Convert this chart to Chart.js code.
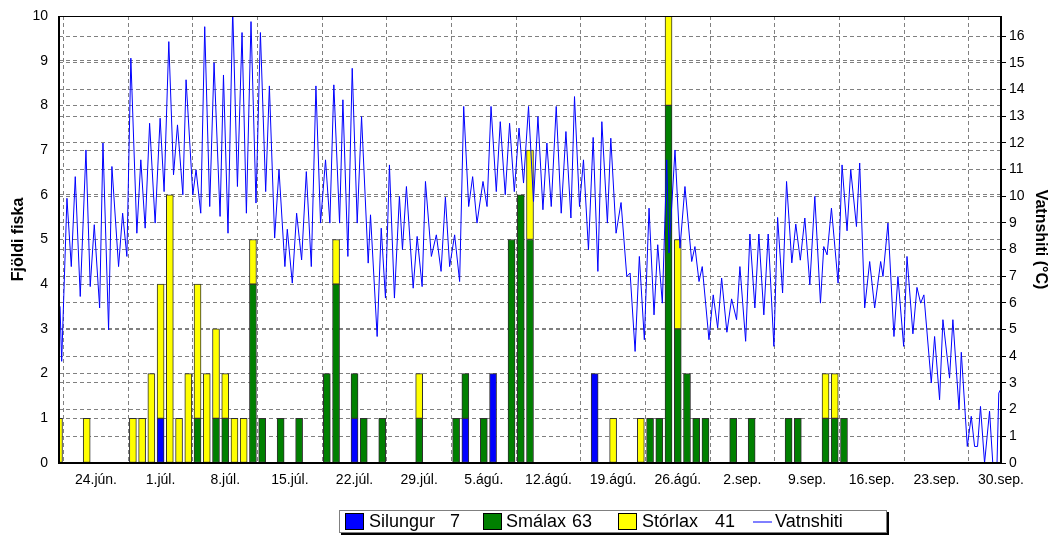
<!DOCTYPE html>
<html><head><meta charset="utf-8">
<script src="https://cdn.jsdelivr.net/npm/chart.js@4.4.0/dist/chart.umd.min.js"></script>
<style>html,body{margin:0;padding:0;background:#fff;}#wrap{width:1053px;height:536px;position:relative;}</style>
</head><body><div id="wrap"><canvas id="c" width="1053" height="536"></canvas></div>
<script>
// Days counted from 20. júní (day 0) to 30. sept. (day 102)
const tickDays = [4,11,18,25,32,39,46,53,60,67,74,81,88,95,102];
const tickLabels = ['24.jún.','1.júl.','8.júl.','15.júl.','22.júl.','29.júl.','5.ágú.','12.ágú.','19.ágú.','26.ágú.','2.sep.','9.sep.','16.sep.','23.sep.','30.sep.'];
const leftTicks = [0,1,2,3,4,5,6,7,8,9,10];
const rightTicks = [0,1,2,3,4,5,6,7,8,9,10,11,12,13,14,15,16];

// catch per day
const fishDay  = [0,3,8,9,10,11,12,13,14,15,16,17,18,19,20,21,22,24,26,29,30,32,33,35,39,43,44,46,47,49,50,51,58,60,63,64,65,66,67,68,69,70,73,75,79,80,83,84,85];
const silungur = [0,0,0,0,0,1,0,0,0,0,0,0,0,0,0,0,0,0,0,0,0,1,0,0,0,0,1,0,2,0,0,0,2,0,0,0,0,0,0,0,0,0,0,0,0,0,0,0,0];
const smalax   = [0,0,0,0,0,0,0,0,0,1,0,1,1,0,0,4,1,1,1,2,4,1,1,1,1,1,1,1,0,5,6,5,0,0,0,1,1,8,3,2,1,1,1,1,1,1,1,1,1];
const storlax  = [1,1,1,1,2,3,6,1,2,3,2,2,1,1,1,1,0,0,0,0,1,0,0,0,1,0,0,0,0,0,0,2,0,1,1,0,0,2,2,0,0,0,0,0,0,0,1,1,0];

// water temperature (°C), turning points of the curve
const tempDay = [0.11,0.29,0.86,1.33,1.76,2.30,2.92,3.38,3.82,4.40,4.76,5.37,5.73,6.45,6.89,7.35,7.78,8.43,8.86,9.33,9.81,10.41,10.95,11.38,11.89,12.40,12.83,13.41,13.76,14.49,14.84,15.35,15.78,16.32,16.79,17.44,17.81,18.30,18.81,19.32,19.82,20.29,20.79,21.33,21.81,22.38,22.78,23.35,23.82,24.46,24.72,25.26,25.73,26.27,26.78,27.32,27.82,28.32,28.86,29.33,29.76,30.38,30.74,31.28,31.75,32.29,32.76,33.48,33.73,34.45,34.89,35.35,35.78,36.32,36.86,37.19,37.62,38.35,38.78,39.32,39.68,40.32,40.86,41.37,41.84,42.30,42.84,43.38,43.82,44.36,44.79,45.26,45.91,46.35,46.78,47.35,47.78,48.32,48.79,49.30,49.81,50.30,50.84,51.38,51.86,52.40,52.83,53.30,53.84,54.38,54.89,55.43,55.82,56.36,56.79,57.33,57.84,58.35,58.78,59.38,59.75,60.32,60.86,61.48,61.84,62.38,62.84,63.38,63.89,64.43,64.83,65.33,65.81,66.05,66.70,67.24,67.78,68.51,68.86,69.30,69.65,70.38,70.84,71.32,71.75,72.32,72.83,73.37,73.73,74.35,74.81,75.35,75.78,76.32,76.79,77.41,77.81,78.35,78.78,79.35,79.78,80.27,80.76,81.30,81.84,82.45,82.81,83.17,83.64,84.36,84.79,85.33,85.73,86.35,86.70,87.24,87.78,88.32,88.97,89.22,89.76,90.41,90.84,91.46,91.82,92.46,92.90,93.30,93.65,94.45,94.81,95.35,95.71,96.43,96.79,97.46,97.70,98.35,98.78,99.14,99.46,99.78,100.22,100.76,101.11,101.57,101.76,101.95];
const tempC = [5.87,3.81,9.92,7.36,10.73,6.24,11.73,6.61,8.93,5.81,11.99,4.99,11.11,7.36,9.36,7.74,15.17,8.61,11.36,8.80,12.73,8.99,12.92,10.17,15.79,10.80,12.67,10.05,14.36,10.05,10.99,9.36,16.35,9.61,15.0,9.24,14.54,8.61,17.0,10.36,16.13,9.36,16.54,9.74,16.13,10.17,14.13,8.43,11.0,7.36,8.76,6.74,9.36,7.61,10.92,7.36,14.13,8.99,11.36,8.99,14.17,8.99,13.61,7.74,14.79,8.99,12.98,7.49,9.30,4.74,8.80,6.18,11.17,6.18,9.99,8.0,10.36,6.55,8.49,6.61,10.55,7.74,8.55,7.18,9.96,7.36,8.55,6.80,13.36,9.61,10.73,8.99,10.55,9.61,13.36,10.17,12.79,10.05,12.73,10.17,12.55,10.49,13.36,9.80,12.98,9.49,11.99,9.61,13.36,9.36,12.42,9.18,13.73,9.61,11.36,7.99,12.2,7.18,12.79,8.99,12.17,8.61,9.76,6.99,7.12,4.18,7.74,4.62,9.55,5.55,8.18,5.99,11.36,7.87,11.73,8.05,10.36,7.55,8.11,6.80,7.36,4.62,6.30,5.06,6.93,4.90,6.15,5.37,7.36,4.56,8.58,5.81,8.58,5.55,8.58,4.37,9.2,6.37,10.55,7.5,8.95,7.6,9.18,6.68,9.99,5.99,8.11,7.80,9.55,6.74,11.17,8.70,10.99,8.86,11.24,5.81,7.55,5.81,7.55,6.99,8.99,4.74,6.99,4.37,7.74,4.84,6.58,5.99,6.30,3.0,4.74,2.37,5.37,3.18,5.37,2.0,4.15,0.62,1.75,0.62,0.62,2.12,0,1.94,0,0,2.62,2.75];

const seriesNames = ['Silungur','Smálax','Stórlax','Vatnshiti'];
const seriesColors = ['#0000ff','#008000','#ffff00','#0000ff'];

const FONT = "'Liberation Sans', Arial, Helvetica, sans-serif";
const sum = a => a.reduce((s,v)=>s+v,0);
const totals = [sum(silungur), sum(smalax), sum(storlax)];
const pts = vals => fishDay.map((d,i)=>({x:d, y: vals[i] ? vals[i] : null}));

function barSet(i, vals){
  return {type:'bar', label:seriesNames[i], data:pts(vals), yAxisID:'y', xAxisID:'x',
    backgroundColor:seriesColors[i], borderColor:'#303030', borderWidth:1, borderSkipped:false,
    barThickness:7, order:1, stack:'fish'};
}
function noPad(s){ s.paddingTop = 0; s.paddingBottom = 0; s.paddingLeft = 0; s.paddingRight = 0; }

const framePlugin = {
  id:'frame',
  afterDatasetsDraw(chart){
    const {ctx, chartArea:a} = chart;
    ctx.save();
    ctx.fillStyle = '#000';
    ctx.fillRect(a.left, a.top, a.right - a.left, 1);
    ctx.fillRect(a.left - 1, a.top, 2, a.bottom - a.top + 1);
    ctx.fillRect(a.right - 1, a.top, 2, a.bottom - a.top + 1);
    ctx.fillRect(a.left - 1, a.bottom - 1, a.right - a.left + 2, 2);
    ctx.restore();
  },
  afterDraw(chart){
    const ctx = chart.ctx;
    ctx.save();
    const bx = 339, by = 510, bw = 548, bh = 23;
    ctx.fillStyle = '#000';
    ctx.fillRect(bx + 2, by + 2, bw, bh);
    ctx.fillStyle = '#fff';
    ctx.fillRect(bx, by, bw, bh);
    ctx.strokeStyle = '#808080';
    ctx.lineWidth = 1;
    ctx.strokeRect(bx + 0.5, by + 0.5, bw - 1, bh - 1);
    const sq = [345, 483, 618];
    const tx = [369, 506, 642];
    const nx = [460, 592, 735];
    ctx.font = '18px ' + FONT;
    ctx.textBaseline = 'middle';
    for (let i = 0; i < 3; i++){
      ctx.fillStyle = seriesColors[i];
      ctx.fillRect(sq[i], by + 3, 19, 17);
      ctx.strokeStyle = '#000';
      ctx.strokeRect(sq[i] + 0.5, by + 3.5, 18, 16);
      ctx.fillStyle = '#000';
      ctx.textAlign = 'left';
      ctx.fillText(seriesNames[i], tx[i], by + bh/2 + 1);
      ctx.textAlign = 'right';
      ctx.fillText(String(totals[i]), nx[i], by + bh/2 + 1);
    }
    ctx.strokeStyle = seriesColors[3];
    ctx.beginPath(); ctx.moveTo(753, by + bh/2 + 0.5); ctx.lineTo(772, by + bh/2 + 0.5); ctx.stroke();
    ctx.fillStyle = '#000'; ctx.textAlign = 'left';
    ctx.fillText(seriesNames[3], 775, by + bh/2 + 1);
    ctx.restore();
  }
};

new Chart(document.getElementById('c'), {
  type:'bar',
  data:{datasets:[
    barSet(0, silungur), barSet(1, smalax), barSet(2, storlax),
    {type:'line', label:seriesNames[3], data:tempDay.map((d,i)=>({x:d, y:tempC[i]})), yAxisID:'y2', xAxisID:'x',
     borderColor:seriesColors[3], borderWidth:1, pointRadius:0, tension:0, order:0}
  ]},
  options:{
    responsive:false, animation:false, devicePixelRatio:1,
    layout:{padding:{left:0, right:0, top:16, bottom:43}},
    plugins:{legend:{display:false}, tooltip:{enabled:false}},
    scales:{
      x:{type:'linear', min:0, max:102, stacked:true, offset:false,
        afterBuildTicks: s => { s.ticks = tickDays.map(v=>({value:v})); },
        afterFit: s => { s.height = 30; noPad(s); },
        ticks:{autoSkip:false, maxRotation:0, padding:9, color:'#000', font:{family:FONT, size:14},
          callback: v => { const k = tickDays.indexOf(v); return k >= 0 ? tickLabels[k] : ''; }},
        grid:{color:'#808080', drawTicks:false, lineWidth:1},
        border:{display:false, dash:[4,3]}
      },
      y:{position:'left', min:0, max:10, stacked:true,
        afterBuildTicks: s => { s.ticks = leftTicks.map(v=>({value:v})); },
        afterFit: s => { s.width = 59; noPad(s); },
        ticks:{padding:11, color:'#000', font:{family:FONT, size:14}},
        grid:{color:'#808080', drawTicks:false},
        border:{display:false, dash:[4,3]},
        title:{display:true, text:'Fjöldi fiska', color:'#000', font:{family:FONT, size:16, weight:'bold'}, padding:{top:9, bottom:0}}
      },
      y2:{position:'right', min:0, max:16.75, stacked:false,
        afterBuildTicks: s => { s.ticks = rightTicks.map(v=>({value:v})); },
        afterFit: s => { s.width = 52; noPad(s); },
        ticks:{padding:3, color:'#000', font:{family:FONT, size:14}},
        grid:{color:'#808080', drawOnChartArea:true, drawTicks:true, tickLength:5, tickColor:'#000', tickBorderDash:[]},
        border:{display:false, dash:[4,3]},
        title:{display:true, text:'Vatnshiti (°C)', color:'#000', font:{family:FONT, size:16, weight:'bold'}, padding:{top:3, bottom:0}}
      }
    }
  },
  plugins:[framePlugin]
});
</script></body></html>
